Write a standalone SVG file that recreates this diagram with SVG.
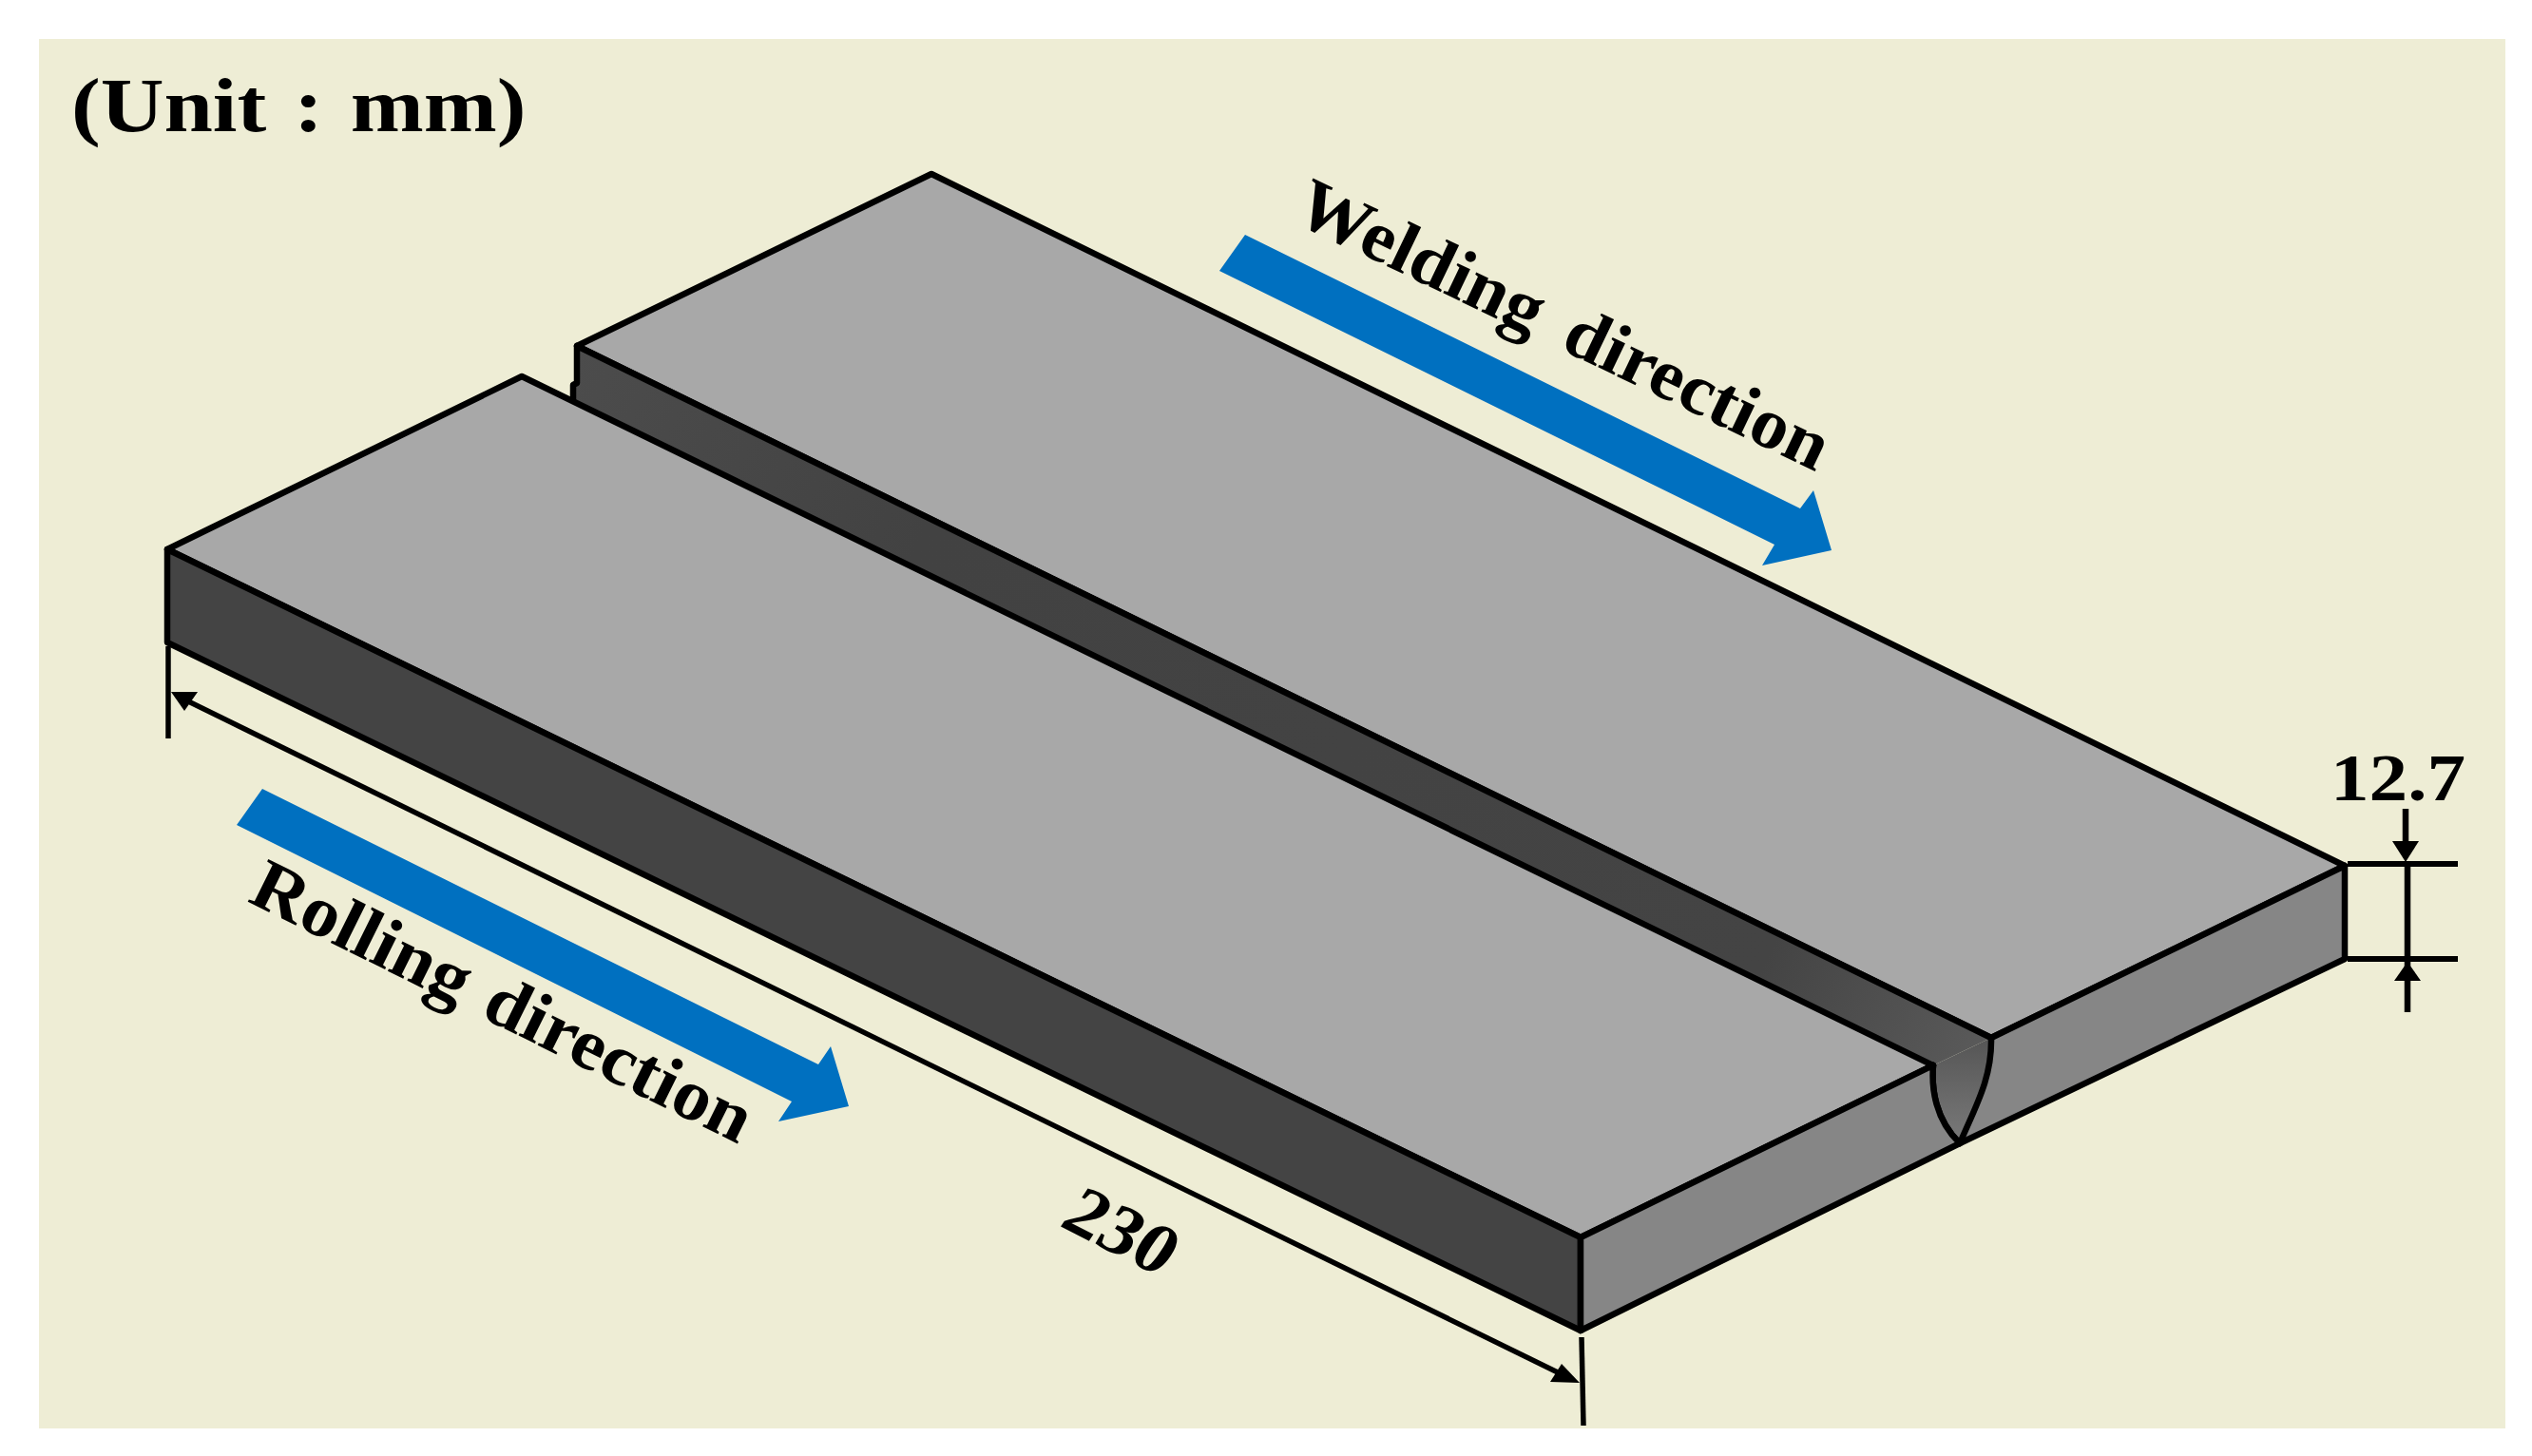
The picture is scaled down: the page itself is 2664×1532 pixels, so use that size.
<svg xmlns="http://www.w3.org/2000/svg" width="2664" height="1532" viewBox="0 0 2664 1532">
<style>
.e{stroke:#000;stroke-width:6.5;stroke-linejoin:round;stroke-linecap:round}
.d{stroke:#000;fill:none}
.t{font-family:"Liberation Serif","Times New Roman",serif;font-weight:700;fill:#000}
.b{fill:#0070C0}
</style>
<defs>
<linearGradient id="wall" gradientUnits="userSpaceOnUse" x1="607" y1="364" x2="2095" y2="1092">
<stop offset="0" stop-color="#4c4c4c"/><stop offset="0.25" stop-color="#424242"/><stop offset="0.85" stop-color="#444444"/><stop offset="1" stop-color="#5a5a5a"/>
</linearGradient>
<linearGradient id="end" gradientUnits="userSpaceOnUse" x1="2064" y1="1095" x2="2064" y2="1204">
<stop offset="0" stop-color="#565656"/><stop offset="1" stop-color="#7a7a7a"/>
</linearGradient>
</defs>
<rect width="2664" height="1532" fill="#fff"/>
<rect x="41" y="41" width="2595" height="1462" fill="#EEEDD5"/>
<g id="right-plate">
<polygon class="e" points="980,183 2467,911 2095,1092 607,364" fill="#A8A8A8"/>
<polygon class="e" points="2095,1092 2467,911 2467,1009 2062,1203" fill="#868686"/>
</g>
<g id="groove">
<polygon points="607,364 2095,1092 2034,1121 602,424 602,403 607,403" fill="url(#wall)"/>
<path d="M2034,1121 C2032,1145 2036,1178 2062,1203 C2078,1165 2096,1135 2095,1092 Z" fill="url(#end)"/>
<path class="e" fill="none" d="M2034,1121 C2032,1145 2036,1178 2062,1203 C2078,1165 2096,1135 2095,1092 L607,364 L607,403 L603,405 L603,424"/>
</g>
<g id="left-plate">
<polygon class="e" points="176,578 549,396 2034,1121 1663,1302" fill="#A8A8A8"/>
<polygon class="e" points="176,578 1663,1302 1663,1400 176,676" fill="#444444"/>
<path class="e" d="M1663,1302 L2034,1121 C2032,1145 2036,1178 2062,1203 L1663,1400 Z" fill="#868686"/>
</g>
<g id="connectors">
<g id="dimension-230">
<line class="d" stroke-width="5.5" x1="177" y1="680" x2="177" y2="777"/>
<line class="d" stroke-width="5.5" x1="1664" y1="1407" x2="1666" y2="1500"/>
<line class="d" stroke-width="5.5" x1="190" y1="734" x2="1645" y2="1447"/>
<polygon points="180,728 208,728 194,748"/>
<polygon points="1662,1455 1643,1435 1631,1454"/>
</g>
<g id="dimension-12-7">
<line class="d" stroke-width="6" x1="2470" y1="909" x2="2586" y2="909"/>
<line class="d" stroke-width="6" x1="2470" y1="1009" x2="2586" y2="1009"/>
<line class="d" stroke-width="6.5" x1="2533" y1="909" x2="2533" y2="1065"/>
<line class="d" stroke-width="6.5" x1="2531" y1="851" x2="2531" y2="890"/>
<polygon points="2517,885 2545,885 2531,907"/>
<polygon points="2519,1032 2547,1032 2533,1012"/>
</g>
</g>
<g id="welding-arrow"><polygon class="b" points="1310,247 1894,535 1908,516 1927,579 1854,595 1867,573 1283,285"/></g>
<g id="rolling-arrow"><polygon class="b" points="276,830 861,1120 874,1101 893,1164 819,1180 833,1159 249,868"/></g>
<g id="labels">
<text class="t" font-size="80" word-spacing="5" transform="translate(75,138) scale(1.155,1)">(Unit : mm)</text>
<text class="t" font-size="70" transform="translate(2452,842) scale(1.16,1)">12.7</text>
<text class="t" font-size="76" word-spacing="12" transform="translate(1359,232) rotate(25.6) scale(1.035,1)">Welding direction</text>
<text class="t" font-size="76" word-spacing="5" transform="translate(259,948) rotate(26.3) scale(1.05,1)">Rolling direction</text>
<text class="t" font-size="76" transform="translate(1113,1289) rotate(27) scale(1.06,1) skewX(-6)">230</text>
</g>
</svg>
